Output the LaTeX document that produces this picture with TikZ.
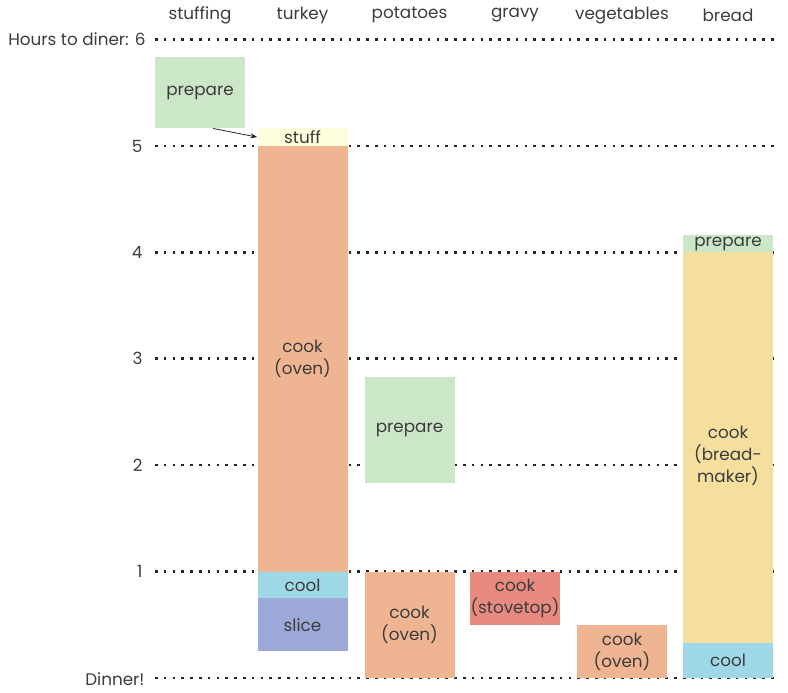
\documentclass[tikz,border=0pt]{standalone}
\usepackage{fontspec}
\setmainfont{Poppins}
\usetikzlibrary{positioning,arrows.meta}

\definecolor{txtgray}{HTML}{3C3C3C}
\definecolor{prepgreen}{HTML}{CCE6C8}
\definecolor{ovenpeach}{HTML}{EFB592}
\definecolor{stuffyellow}{HTML}{FEFDDC}
\definecolor{coolblue}{HTML}{9ED8E6}
\definecolor{slicebl}{HTML}{9CA9D8}
\definecolor{stovered}{HTML}{E88A80}
\definecolor{breadwheat}{HTML}{F5DF9E}

\begin{document}
\begin{tikzpicture}[x=1pt, y=106.4pt, text=txtgray,
    font=\fontsize{16.8}{22}\selectfont,
    task/.style={minimum width=90pt, inner sep=0pt, align=center},
    hrs/.style={minimum height=#1*106.4pt},
    hourline/.style={line width=2.6pt, dash pattern=on 2.6pt off 6.2pt, black!85}]
\useasboundingbox (0,-0.141) rectangle (788,6.372);

% hour marks
\node[anchor=east] (h6) at (149,6) {Hours to diner: 6};
\foreach \h in {1,...,5}
    \node[anchor=east] (h\h) at (146,\h) {\h};
\node[anchor=east] (h0) at (148,-0.01) {Dinner!};
\foreach \h in {0,...,6} {
    \coordinate (s\h) at (155,\h);
    \coordinate (e\h) at (777,\h);
    \draw[hourline] (s\h) -- (e\h);
}

% column heads
\node (stuffing) at (200,6.23) {stuffing};
\node (turkey) at (302.5,6.23) {turkey};
\node (potatoes) at (409.5,6.23) {potatoes};
\node (gravy) at (515,6.23) {gravy};
\node (vegetables) at (622,6.23) {vegetables};
\node (bread) at (728,6.23) {bread};

% stuffing
\node[task, hrs=0.667, fill=prepgreen] (sprep) at (200,5.5) {prepare};

% turkey
\node[task, hrs=0.1667, fill=stuffyellow] (tstuff) at (302.5,5.0833) {stuff};
\node[task, hrs=4, fill=ovenpeach] (tcook) at (302.5,3) {cook\\(oven)};
\node[task, hrs=0.25, fill=coolblue] (tcool) at (302.5,0.875) {cool};
\node[task, hrs=0.5, fill=slicebl] (tslice) at (302.5,0.5) {slice};

% potatoes
\node[task, hrs=1, fill=prepgreen] (pprep) at (409.5,2.333) {prepare};
\node[task, hrs=1, fill=ovenpeach] (pcook) at (409.5,0.5) {cook\\(oven)};

% gravy
\node[task, hrs=0.5, fill=stovered] (gcook) at (515,0.75) {cook\\(stovetop)};

% vegetables
\node[task, hrs=0.5, fill=ovenpeach] (vcook) at (622,0.25) {cook\\(oven)};

% bread
\node[task, hrs=3.667, fill=breadwheat] (bcook) at (728,2.1667) {};
\node (bcooktxt) at ([yshift=-8pt]bcook.center) [align=center] {cook\\(bread-\\maker)};
\node[task, hrs=0.1667, fill=prepgreen] (bprep) at (728,4.0833) {prepare};
\node[task, hrs=0.333, fill=coolblue] (bcool) at (728,0.1667) {cool};

\draw[-{Stealth[length=7pt]}, black!85, thick] ([xshift=13pt]sprep.south) -- (tstuff.west);
\end{tikzpicture}
\end{document}
